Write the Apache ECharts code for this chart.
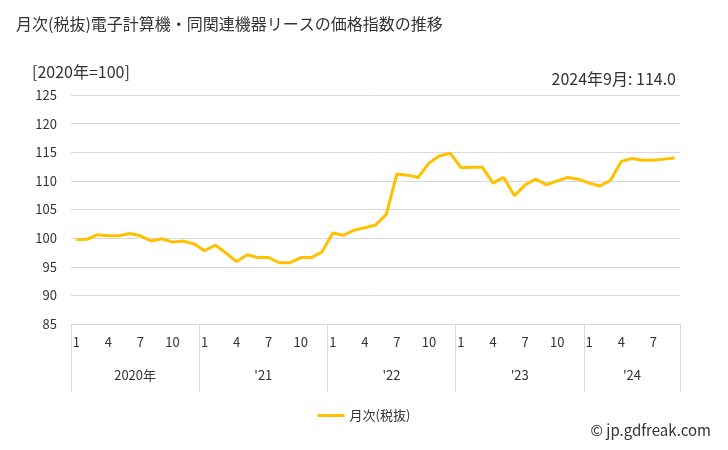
<!DOCTYPE html>
<html><head><meta charset="utf-8">
<script src="https://cdn.jsdelivr.net/npm/echarts@6/dist/echarts.min.js"></script>
<style>html,body{margin:0;padding:0;background:#fff}#c{width:728px;height:450px}</style>
</head><body><div id="c"></div>
<script>
const years = ['2020年', "'21", "'22", "'23", "'24"];
const monthsPerYear = [12, 12, 12, 12, 9];
const values = [
  99.7, 99.8, 100.6, 100.4, 100.4, 100.8, 100.4, 99.5, 99.9, 99.3, 99.5, 99.0,
  97.8, 98.8, 97.4, 95.9, 97.1, 96.6, 96.6, 95.7, 95.7, 96.6, 96.6, 97.6,
  100.9, 100.5, 101.4, 101.8, 102.3, 104.1, 111.2, 111.0, 110.6, 113.1, 114.4, 114.8,
  112.3, 112.4, 112.4, 109.6, 110.6, 107.4, 109.3, 110.3, 109.3, 110.0, 110.6, 110.3,
  109.6, 109.1, 110.1, 113.4, 113.9, 113.6, 113.6, 113.8, 114.0
];
const yTicks = [85, 90, 95, 100, 105, 110, 115, 120, 125];

const cats = [];
const boundaries = [0];
const yearCenters = [];
let acc = 0;
monthsPerYear.forEach((n, yi) => {
  for (let m = 1; m <= n; m++) cats.push(years[yi] + '-' + m);
  yearCenters.push(acc + n / 2);
  acc += n;
  boundaries.push(acc);
});
const total = acc;

const font = '"Noto Sans CJK JP", "Noto Sans", sans-serif';
const chart = echarts.init(document.getElementById('c'), null, {renderer: 'canvas'});
chart.setOption({
  animation: false,
  textStyle: {fontFamily: font},
  title: [
    {text: '月次(税抜)電子計算機・同関連機器リースの価格指数の推移', left: 11, top: 11,
     textStyle: {fontSize: 16, fontWeight: 'normal', color: '#333', fontFamily: font}},
    {text: '[2020年=100]', left: 27, top: 59,
     textStyle: {fontSize: 16, fontWeight: 'normal', color: '#333', fontFamily: font}},
    {text: '2024年9月: ' + values[values.length - 1].toFixed(1), right: 47, top: 66,
     textStyle: {fontSize: 16, fontWeight: 'normal', color: '#333', fontFamily: font}},
    {text: '© jp.gdfreak.com', right: 12, top: 418,
     textStyle: {fontSize: 15, fontWeight: 'normal', color: '#333', fontFamily: font}}
  ],
  legend: {
    bottom: 23, left: 'center',
    itemWidth: 27, itemHeight: 3, itemGap: 3,
    icon: 'rect',
    textStyle: {fontSize: 13, color: '#333', fontFamily: font},
    data: ['月次(税抜)']
  },
  grid: {left: 71, right: 48, top: 95, bottom: 126, containLabel: false},
  xAxis: [
    {
      type: 'category', data: cats, boundaryGap: true,
      axisLine: {show: true, lineStyle: {color: '#d9d9d9'}},
      axisTick: {show: false},
      axisLabel: {
        interval: 0, margin: 12, fontSize: 13, color: '#333',
        formatter: (v) => {
          const m = +v.split('-')[1];
          return (m === 1 || m === 4 || m === 7 || m === 10) ? String(m) : '';
        }
      },
      splitLine: {show: false}
    },
    {
      type: 'value', min: 0, max: total, position: 'bottom',
      axisLine: {show: false},
      axisTick: {show: true, customValues: boundaries, length: 68, lineStyle: {color: '#d9d9d9'}},
      axisLabel: {
        customValues: yearCenters, margin: 45, fontSize: 13, color: '#333',
        formatter: (v) => { const i = yearCenters.indexOf(v); return i >= 0 ? years[i] : ''; }
      },
      splitLine: {show: false}
    }
  ],
  yAxis: {
    type: 'value', min: yTicks[0], max: yTicks[yTicks.length - 1], interval: 5,
    axisLine: {show: false}, axisTick: {show: false},
    axisLabel: {fontSize: 13, color: '#333', margin: 14},
    splitLine: {lineStyle: {color: '#d9d9d9', width: 1}}
  },
  series: [{
    name: '月次(税抜)', type: 'line', data: values, xAxisIndex: 0,
    showSymbol: false, symbol: 'none',
    lineStyle: {color: '#FFC000', width: 3},
    itemStyle: {color: '#FFC000'}
  }]
});
</script></body></html>
